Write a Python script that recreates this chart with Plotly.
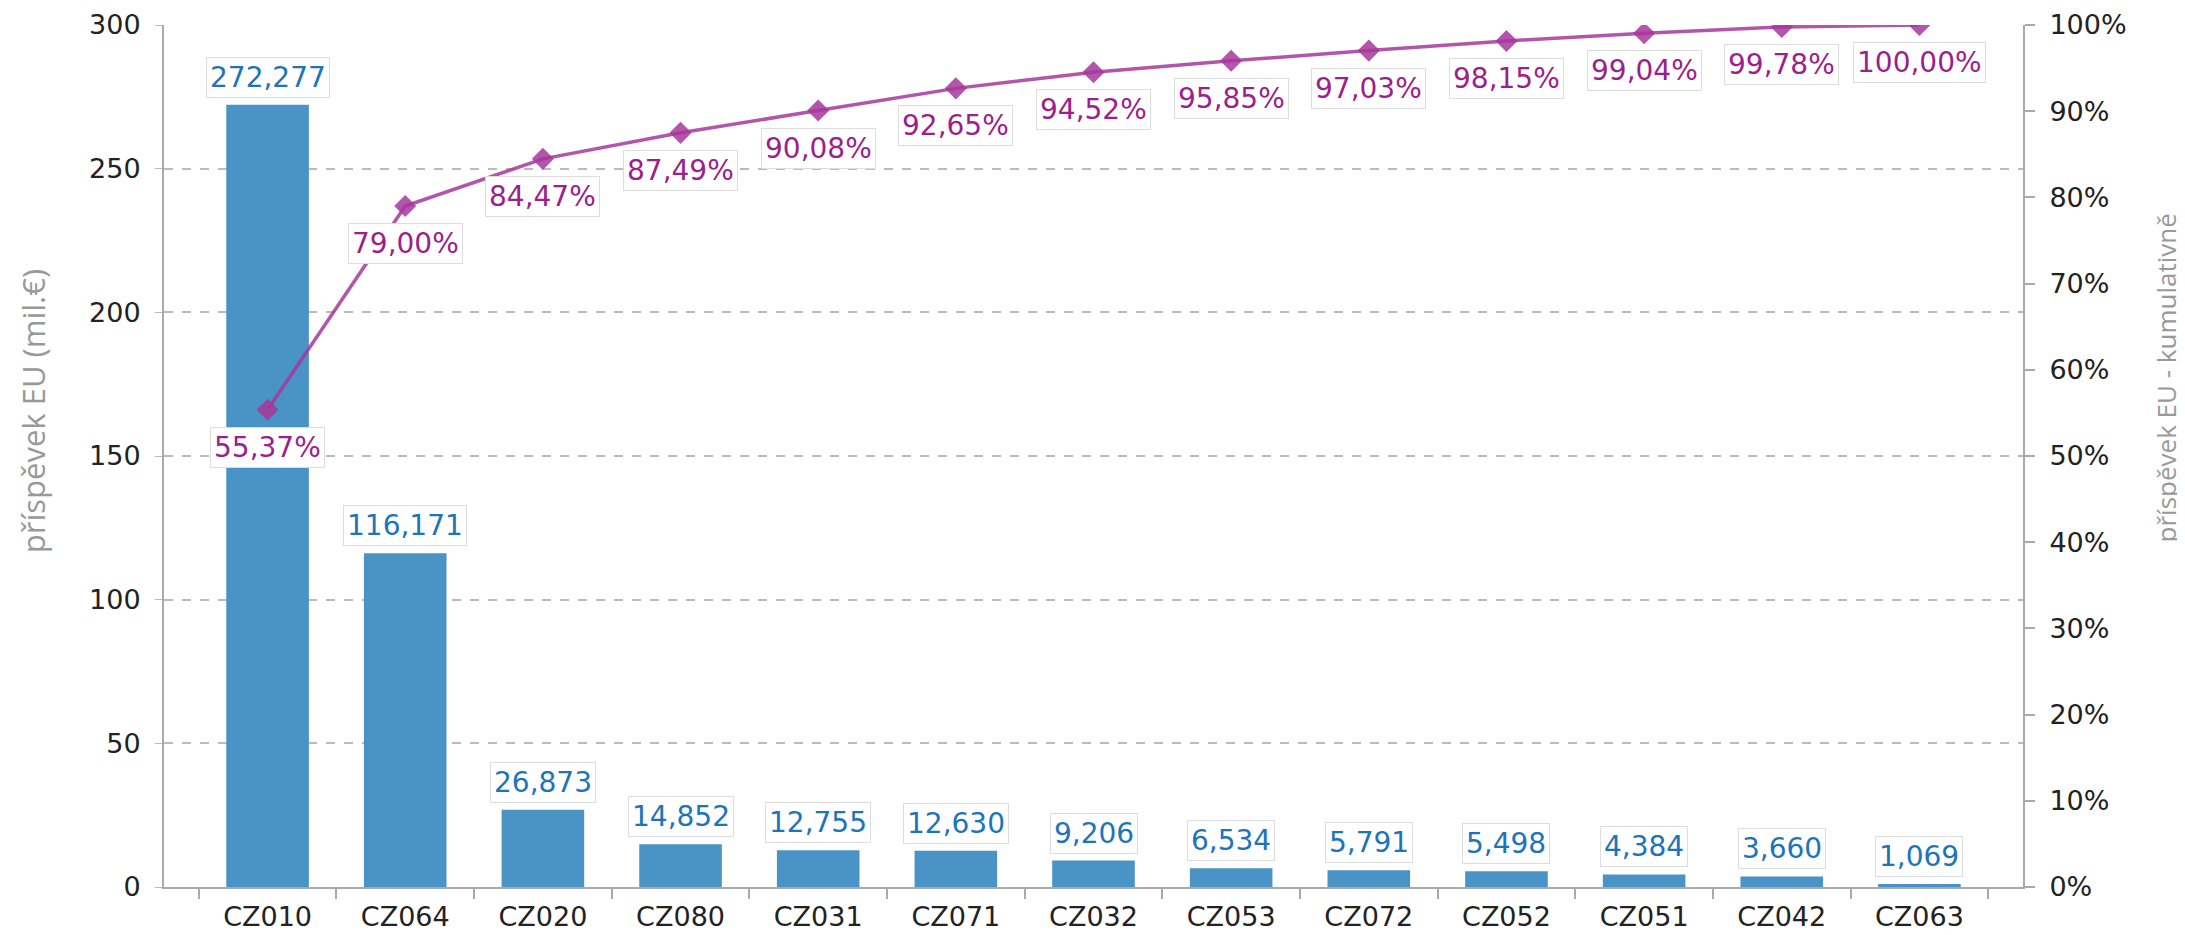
import plotly.graph_objects as go

regions = ["CZ010", "CZ064", "CZ020", "CZ080", "CZ031", "CZ071", "CZ032",
           "CZ053", "CZ072", "CZ052", "CZ051", "CZ042", "CZ063"]
contribution = [272.277, 116.171, 26.873, 14.852, 12.755, 12.630, 9.206,
                6.534, 5.791, 5.498, 4.384, 3.660, 1.069]
cumulative_pct = [55.37, 79.00, 84.47, 87.49, 90.08, 92.65, 94.52,
                  95.85, 97.03, 98.15, 99.04, 99.78, 100.00]
left_ticks = [0, 50, 100, 150, 200, 250, 300]
right_ticks = [0, 10, 20, 30, 40, 50, 60, 70, 80, 90, 100]

BAR = "#4a93c6"
BAR_TXT = "#1c74bb"
LINE = "rgba(166,55,155,0.85)"
LINE_TXT = "#9c1f8c"
FAM = "DejaVu Sans, Verdana, sans-serif"
TICK_FONT = dict(family=FAM, size=27, color="#222222")

fig = go.Figure()
fig.add_trace(go.Bar(x=regions, y=contribution, marker_color=BAR,
                     marker_line_width=0, width=0.6, yaxis="y", name="EU"))
fig.add_trace(go.Scatter(x=regions, y=cumulative_pct, yaxis="y2", mode="lines+markers",
                         line=dict(color=LINE, width=3.5),
                         marker=dict(symbol="diamond", size=17, color=LINE),
                         name="kum"))

annotations = []
for r, v in zip(regions, contribution):
    annotations.append(dict(x=r, y=v, xref="x", yref="y", text=f"{v:.3f}".replace(".", ","),
                            showarrow=False, yanchor="bottom", yshift=7,
                            font=dict(family=FAM, size=28, color=BAR_TXT),
                            bgcolor="white", bordercolor="#dddddd", borderwidth=1, borderpad=3))
for r, p in zip(regions, cumulative_pct):
    annotations.append(dict(x=r, y=p, xref="x", yref="y2", text=f"{p:.2f}%".replace(".", ","),
                            showarrow=False, yanchor="top", yshift=-17,
                            font=dict(family=FAM, size=28, color=LINE_TXT),
                            bgcolor="white", bordercolor="#dddddd", borderwidth=1, borderpad=3))
annotations.append(dict(x=0.0, xref="paper", xshift=-131, xanchor="center", y=0.552, yref="paper",
                        yanchor="middle", text="příspěvek EU (mil.€)", textangle=-90, showarrow=False,
                        font=dict(family="Open Sans, sans-serif", size=31, color="#999999")))
annotations.append(dict(x=1.0, xref="paper", xshift=143, xanchor="center", y=0.590, yref="paper",
                        yanchor="middle", text="příspěvek EU - kumulativně", textangle=-90, showarrow=False,
                        font=dict(family="Open Sans, sans-serif", size=26, color="#999999")))

fig.update_layout(
    width=2177, height=927,
    margin=dict(l=156, r=162, t=17, b=48),
    plot_bgcolor="white", paper_bgcolor="white",
    showlegend=False, bargap=0.4,
    annotations=annotations,
    xaxis=dict(type="category", showgrid=False, showline=True, linecolor="#aaaaaa", linewidth=2,
               ticks="outside", tickson="boundaries", ticklen=10, tickcolor="#aaaaaa", tickwidth=2,
               tickfont=TICK_FONT, ticklabelstandoff=5, automargin=False),
    yaxis=dict(range=[0, 300], tickvals=left_ticks, showgrid=True, gridcolor="#bbbbbb",
               griddash="dash", gridwidth=1.5, zeroline=False, showline=True, linecolor="#aaaaaa",
               linewidth=2, ticks="outside", ticklen=7, tickcolor="#bbbbbb", tickfont=TICK_FONT,
               ticklabelstandoff=9, automargin=False),
    yaxis2=dict(range=[0, 100], tickvals=right_ticks, ticktext=[f"{t}%" for t in right_ticks],
                overlaying="y", side="right", showgrid=False, zeroline=False, showline=True,
                linecolor="#aaaaaa", linewidth=2, ticks="outside", ticklen=10, tickcolor="#aaaaaa",
                tickwidth=2, tickfont=TICK_FONT, ticklabelstandoff=9, automargin=False),
)

fig.write_html("out.html")
